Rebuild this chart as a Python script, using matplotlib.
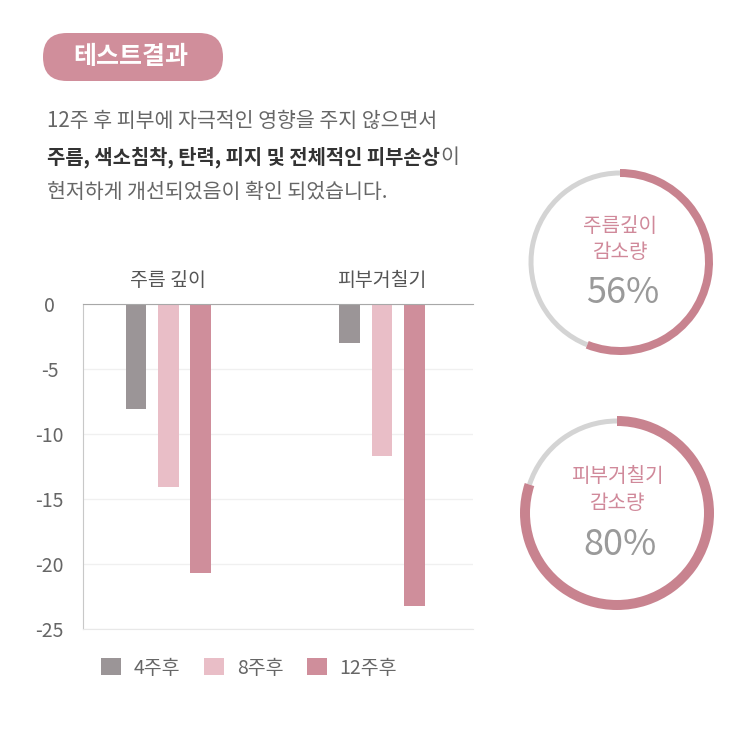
import matplotlib.pyplot as plt
from matplotlib.patches import FancyBboxPatch
import numpy as np

plt.rcParams['font.family'] = ['Noto Sans CJK KR', 'DejaVu Sans']
plt.rcParams['axes.unicode_minus'] = False

# data
categories = ['주름 깊이', '피부거칠기']
series = ['4주후', '8주후', '12주후']
week4 = [-8.1, -3.0]
week8 = [-14.1, -11.7]
week12 = [-20.7, -23.2]
yticks = [0, -5, -10, -15, -20, -25]
ytick_labels = ['0', '-5', '-10', '-15', '-20', '-25']
ring_titles = [['주름깊이', '감소량'], ['피부거칠기', '감소량']]
ring_values = [56, 80]

colors = ['#9b9597', '#e9bec7', '#cf8e9b']
ring_pink = '#c8838f'
ring_gray = '#d4d4d4'

W, H = 745, 732
fig = plt.figure(figsize=(W / 100, H / 100), dpi=100)

def fx(px):
    return px / W

def fy(py):
    return 1 - py / H

# title badge
badge = FancyBboxPatch((fx(43), fy(81)), fx(223) - fx(43), fy(33) - fy(81),
                       boxstyle='round,pad=0,rounding_size=0.032',
                       transform=fig.transFigure, facecolor='#d08e9b',
                       edgecolor='none', mutation_aspect=W / H)
fig.patches.append(badge)
fig.text(fx(131), fy(57), '테스트결과', color='white', fontsize=18,
         fontweight='bold', ha='center', va='center')

# paragraph
fig.text(fx(47), fy(121), '12주 후 피부에 자극적인 영향을 주지 않으면서',
         color='#666666', fontsize=14.8, va='center')
t_bold = fig.text(fx(47), fy(157), '주름, 색소침착, 탄력, 피지 및 전체적인 피부손상',
                  color='#333333', fontsize=14.3, fontweight='bold', va='center')
fig.canvas.draw()
bb = t_bold.get_window_extent()
fig.text(bb.x1 / W, fy(157), '이', color='#666666', fontsize=14.8, va='center')
fig.text(fx(47), fy(192), '현저하게 개선되었음이 확인 되었습니다.',
         color='#666666', fontsize=14.8, va='center')

# bar chart
ax = fig.add_axes([fx(83), fy(629), fx(473) - fx(83), fy(304) - fy(629)])
x = np.arange(len(categories))
off = 0.152
bw = 0.098
for i, vals in enumerate([week4, week8, week12]):
    ax.bar(x + (i - 1) * off, vals, width=bw, color=colors[i], label=series[i])
ax.set_ylim(-25, 0)
ax.set_xlim(-0.40, 1.426)
ax.set_yticks(yticks)
ax.set_yticklabels(ytick_labels)
ax.yaxis.grid(True, color='#f0f0f0', linewidth=1)
ax.set_axisbelow(True)
ax.tick_params(axis='y', length=0, pad=24, labelsize=14, labelcolor='#666666')
for lab in ax.get_yticklabels():
    lab.set_horizontalalignment('center')
ax.xaxis.tick_top()
ax.set_xticks(x)
ax.set_xticklabels(categories)
ax.tick_params(axis='x', length=0, pad=9, labelsize=14, labelcolor='#555555')
ax.spines['right'].set_visible(False)
ax.spines['bottom'].set_color('#e8e8e8')
ax.spines['top'].set_color('#a8a8a8')
ax.spines['left'].set_color('#c8c8c8')

ax.legend(loc='center', bbox_to_anchor=(fx(249), fy(668)),
          bbox_transform=fig.transFigure, ncol=3, frameon=False,
          fontsize=14, handlelength=1.05, handleheight=0.95, handletextpad=0.65,
          columnspacing=1.2, labelcolor='#666666')

# rings
rings = [(620, 262, 93, 8, 5), (617, 513, 97, 10, 5)]
for k, (cx, cy, r, pw, gw) in enumerate(rings):
    rax = fig.add_axes([fx(cx - r), fy(cy + r), 2 * r / W, 2 * r / H])
    v = ring_values[k]
    rax.pie([v, 100 - v], colors=['none', ring_gray], startangle=90,
            counterclock=False, radius=1 - (pw - gw) / 2 / r,
            wedgeprops=dict(width=gw / r, edgecolor='none'))
    rax.pie([v, 100 - v], colors=[ring_pink, 'none'], startangle=90,
            counterclock=False, radius=1,
            wedgeprops=dict(width=pw / r, edgecolor='none'))
    rax.set_xlim(-1, 1)
    rax.set_ylim(-1, 1)
    rax.set_aspect('auto')
    rax.axis('off')
    rax.text(0, 0.38, ring_titles[k][0], color='#d0899a', fontsize=14.5,
             fontweight='medium', ha='center', va='center')
    rax.text(0, 0.1, ring_titles[k][1], color='#d0899a', fontsize=14.5,
             fontweight='medium', ha='center', va='center')
    rax.text(0.03, -0.33, f'{v}%', color='#9a9a9a', fontsize=26,
             fontweight='medium', ha='center', va='center')

fig.savefig('out.png', dpi=100)
